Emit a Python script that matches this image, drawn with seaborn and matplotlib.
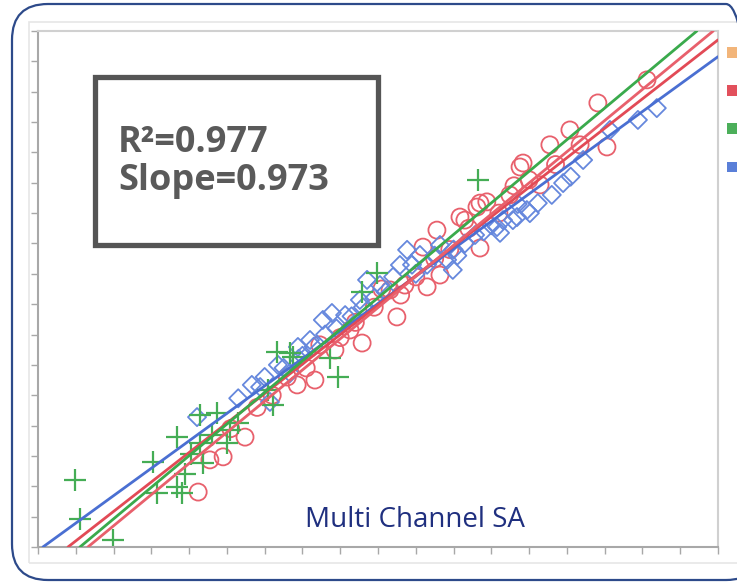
import numpy as np
import pandas as pd
import matplotlib
matplotlib.use("Agg")
import matplotlib.pyplot as plt
import seaborn as sns
from matplotlib.patches import FancyBboxPatch, Rectangle, Patch

# ---------------- data ----------------
green_x = [0.98, 1.11, 1.99, 3.04, 3.15, 3.68, 3.68, 3.81, 4.29, 4.37, 4.74, 5.00,
           5.08, 6.22, 6.33, 6.75, 7.73, 7.94, 8.58, 8.97, 11.65, 4.29, 6.67, 6.09,
           4.05, 4.60, 5.30, 3.90]
green_y = [2.21, 0.92, 0.23, 2.80, 1.78, 3.62, 1.98, 1.78, 3.43, 2.77, 4.42, 3.43,
           3.86, 4.68, 6.43, 6.26, 6.23, 5.60, 8.40, 9.03, 12.09, 4.35, 6.39, 5.17,
           3.05, 3.70, 4.10, 2.40]

red_x = [4.24, 4.90, 5.48, 4.55, 7.33, 6.86, 8.58, 9.50, 9.32, 10.30, 10.19, 10.56,
         11.17, 11.70, 11.70, 12.76, 11.62, 11.88, 12.84, 13.55, 14.08, 14.82, 15.06,
         16.12, 7.86, 8.26, 9.71, 10.64, 11.30, 12.49, 14.35, 13.29, 7.46,
         6.20, 7.10, 8.00, 8.90, 9.60, 10.00, 10.90, 11.40, 12.20, 12.60, 13.00,
         13.70, 10.50, 9.10, 8.40, 6.60, 5.80, 5.10]
red_y = [1.81, 2.97, 3.62, 2.87, 5.50, 5.34, 6.72, 7.58, 8.47, 8.57, 9.88, 10.44,
         10.87, 11.33, 9.85, 12.52, 11.20, 11.37, 12.65, 13.25, 13.74, 14.63, 13.18,
         15.39, 6.49, 7.15, 8.63, 8.96, 10.77, 11.60, 13.25, 11.93, 6.66,
         5.00, 5.90, 6.90, 7.90, 8.30, 8.90, 9.80, 10.50, 11.00, 11.90, 12.10,
         12.60, 9.50, 8.50, 7.40, 5.60, 4.60, 3.90]

blue_x = [4.21, 5.66, 5.88, 6.35, 6.14, 6.67, 6.88, 7.54, 7.78, 8.71, 9.77, 10.83,
          10.98, 12.23, 12.57, 12.94, 12.15, 12.31, 12.68, 13.02, 13.23, 13.90, 14.43,
          15.14, 15.88, 16.38, 8.13, 9.05, 10.11, 10.64, 11.57, 8.52, 9.58, 7.20,
          6.50, 7.00, 7.30, 7.90, 8.30, 8.90, 9.20, 9.40, 10.00, 10.30, 10.50, 11.00,
          11.30, 11.80, 12.00, 11.10, 9.90, 8.60, 7.60, 6.90, 13.60, 14.10, 12.70,
          5.30, 6.00]
blue_y = [4.28, 5.34, 5.27, 6.00, 4.78, 5.73, 6.59, 7.48, 7.71, 8.80, 9.79, 9.46,
          9.13, 10.35, 10.77, 11.10, 10.54, 10.77, 10.87, 11.00, 11.33, 11.99, 12.75,
          13.74, 14.07, 14.46, 7.64, 8.63, 9.62, 9.95, 10.28, 8.14, 9.29, 6.82,
          5.90, 6.30, 6.60, 7.20, 7.60, 8.20, 8.40, 8.90, 9.00, 9.30, 9.60, 9.80,
          10.00, 10.40, 10.60, 9.60, 9.30, 7.90, 7.00, 6.20, 11.60, 12.20, 11.30,
          4.90, 5.60]

# fitted lines (intercept, slope) per series
line_names = ["blue", "red_a", "green", "red_b"]
line_intercepts = [-0.118, -0.771, -1.156, -1.356]
line_slopes = [0.904, 0.971, 1.041, 1.027]
line_colors = ["#4a6fd2", "#e24a56", "#3aaa4c", "#e8606c"]

legend_colors = ["#f2b57a", "#e2505c", "#4caf5a", "#5a7fd8"]

x_ticks = list(range(0, 19))
y_ticks = list(range(0, 18))

r2_text = "R\u00b2=0.977"
slope_text = "Slope=0.973"
caption = "Multi Channel SA"

# ---------------- figure ----------------
sns.set_theme(style="white")
plt.rcParams["font.family"] = ["Open Sans", "DejaVu Sans"]

W, H = 737, 582
fig = plt.figure(figsize=(W / 100, H / 100), dpi=100)
ax = fig.add_axes([38 / W, 1 - 547 / H, 680 / W, 516 / H])

ax.set_xlim(0, 18)
ax.set_ylim(0, 17)

red_c = "#e8606c"
blue_c = "#6688dd"
green_c = "#45ad55"

sns.scatterplot(x=red_x, y=red_y, ax=ax, marker="o", s=150,
                facecolors="none", edgecolor=red_c, linewidth=1.3, zorder=2)
sns.scatterplot(x=blue_x, y=blue_y, ax=ax, marker="D", s=85,
                facecolors="none", edgecolor=blue_c, linewidth=1.3, zorder=2)
sns.scatterplot(x=green_x, y=green_y, ax=ax, marker="+", s=230,
                color=green_c, linewidth=1.6, zorder=2)

for a, b, c in zip(line_intercepts, line_slopes, line_colors):
    ax.axline((0, a), slope=b, color=c, lw=2.0, zorder=3)

ax.set_xticks(x_ticks)
ax.set_yticks(y_ticks)
ax.set_xticklabels([])
ax.set_yticklabels([])
ax.tick_params(axis="both", which="major", direction="out", length=5,
               width=1.0, color="#a8a8a8", bottom=True, left=True)
for side in ["left", "bottom"]:
    ax.spines[side].set_color("#a8a8a8")
    ax.spines[side].set_linewidth(1.5)
for side in ["top", "right"]:
    ax.spines[side].set_color("#d0d0d0")
    ax.spines[side].set_linewidth(1.5)

# statistics box
ax.add_patch(Rectangle((57 / 680, 302 / 516), 283 / 680, 168 / 516,
                       transform=ax.transAxes, facecolor="white",
                       edgecolor="#555555", lw=3.8, zorder=5))
ax.text(80 / 680, (547 - 152) / 516, r2_text, transform=ax.transAxes,
        fontsize=26, fontweight="bold", color="#5a5a5a", ha="left",
        va="baseline", zorder=6)
ax.text(80 / 680, (547 - 190) / 516, slope_text, transform=ax.transAxes,
        fontsize=26, fontweight="bold", color="#5a5a5a", ha="left",
        va="baseline", zorder=6)

ax.text((305 - 38) / 680, (547 - 527) / 516, caption, transform=ax.transAxes,
        fontsize=20, color="#1f2f7f", ha="left", va="baseline", zorder=6)

# clipped legend swatches at right edge
handles = [Patch(facecolor=c, edgecolor="none") for c in legend_colors]
fig.legend(handles, ["", "", "", ""], loc="upper left",
           bbox_to_anchor=(727 / W, 1 - 47 / H), bbox_transform=fig.transFigure,
           frameon=False, fontsize=8, handlelength=1.2, handleheight=1.1,
           labelspacing=2.35, borderpad=0, borderaxespad=0, handletextpad=0.2)

# faint screenshot frame and rounded outer border
fig.add_artist(Rectangle((29, H - 563), 730, 541, transform=None, fill=False,
                         edgecolor="#e6e6e6", lw=1.2, zorder=0))
fig.add_artist(FancyBboxPatch((12, 2), 750, 576, transform=None,
                              boxstyle="round,pad=0,rounding_size=36",
                              fill=False, edgecolor="#2d4a8a", lw=1.6, zorder=10))

fig.savefig("out.png", dpi=100)
